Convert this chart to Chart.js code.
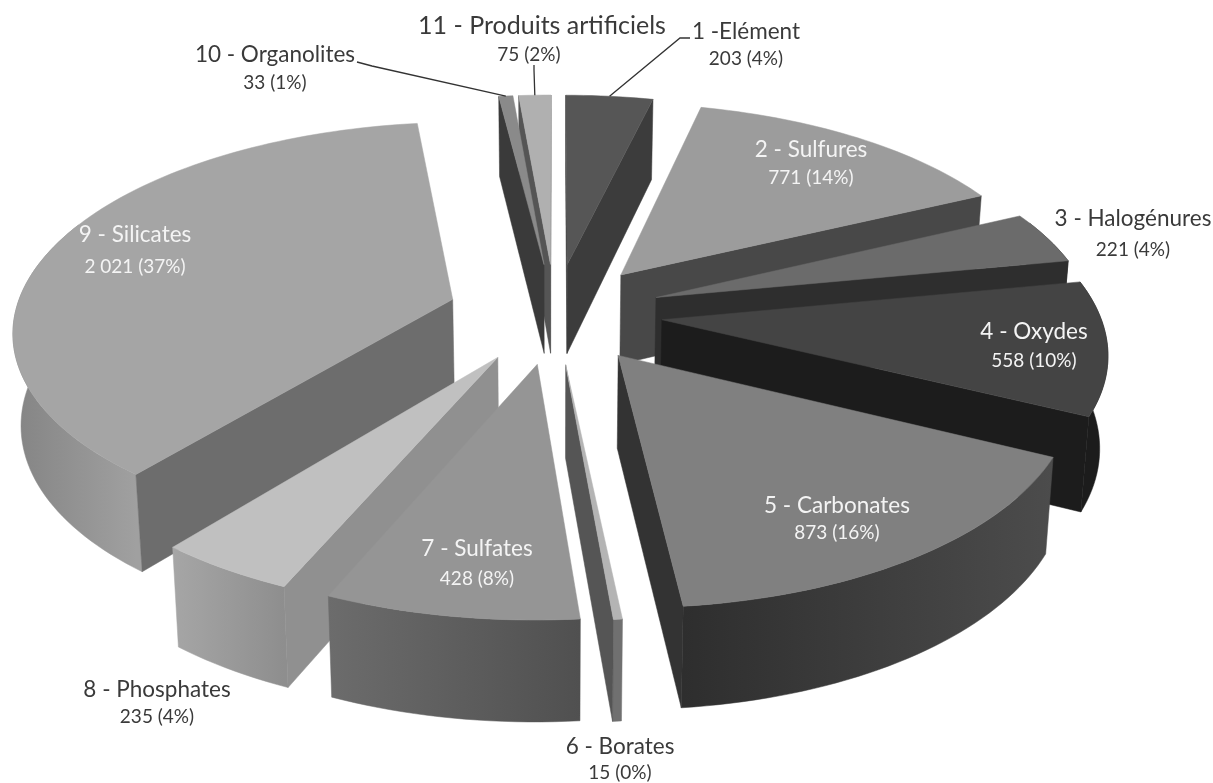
<!DOCTYPE html>
<html>
<head>
<meta charset="utf-8">
<title>Minéraux</title>
<script src="https://cdn.jsdelivr.net/npm/chart.js@4"></script>
<style>
    html, body { margin: 0; padding: 0; background: #fff; }
    #wrap { width: 1213px; height: 783px; }
</style>
</head>
<body>
<div id="wrap"><canvas id="myChart"></canvas></div>
<script>
const categories = ['1 -Elément', '2 - Sulfures', '3 - Halogénures', '4 - Oxydes', '5 - Carbonates', '6 - Borates',
    '7 - Sulfates', '8 - Phosphates', '9 - Silicates', '10 - Organolites', '11 - Produits artificiels'];
const values = [203, 771, 221, 558, 873, 15, 428, 235, 2021, 33, 75];
const valueLabels = ['203 (4%)', '771 (14%)', '221 (4%)', '558 (10%)', '873 (16%)', '15 (0%)',
    '428 (8%)', '235 (4%)', '2 021 (37%)', '33 (1%)', '75 (2%)'];

// styles per slice
const faceColors = ['#565656', '#9c9c9c', '#6b6b6b', '#444444', '#808080', '#b4b4b4', '#959595', '#c0c0c0', '#a5a5a5', '#8a8a8a', '#b0b0b0'];
const wallColors = ['#3c3c3c', '#484848', '#2e2e2e', '#1c1c1c', '#333333', '#555555', '#8f8f8f', '#909090', '#6d6d6d', '#3a3a3a', '#555555'];
const rimLeft = ['#3c3c3c', '#484848', '#2e2e2e', '#1c1c1c', '#2e2e2e', '#707070', '#6c6c6c', '#a6a6a6', '#848484', '#3a3a3a', '#555555'];
const rimRight = ['#3c3c3c', '#484848', '#2e2e2e', '#1c1c1c', '#4c4c4c', '#707070', '#505050', '#8e8e8e', '#a0a0a0', '#3a3a3a', '#555555'];

// label centres: [x, y] of the name, then [x, y] of the value line; white text inside the pie
const labelPos = [[746, 32, 746, 59], [811, 150, 811, 178], [1133, 219, 1133, 250], [1034, 332, 1034, 361],
    [837, 506, 837, 533], [620, 747, 620, 773], [477, 549, 477, 579], [157, 690, 157, 717],
    [135, 235, 135, 267], [275, 55, 275, 83], [542, 26, 529, 55]];
const labelWhite = [false, true, false, true, true, false, true, false, true, false, false];
const nameSize = [22.5, 22.5, 22.5, 22.5, 22.5, 22.5, 22.5, 22.5, 22.5, 22.5, 25];

// leader lines: slice index, start, elbow
const leaders = [
    { slice: 0, from: [690, 38], elbow: [680, 38] },
    { slice: 9, from: [357, 62], elbow: [372, 66] },
    { slice: 10, from: [534, 65], elbow: [534, 70] }
];

// camera, all relative to the pie's own centre and radius
const explode = 0.197;      // share of the radius used by the explosion
const focal = 1.741;
const tilt = 0.4685;
const persp = 0.171;
const wallHeight = 0.2907;
const wallSlope = 0.035;
const wallShrink = 0.985;

function projector(arc) {
    const R = arc.outerRadius;
    return (u, v, down) => {
        const w = 1 - persp * v;
        let x = focal * R * u / w;
        let y = focal * R * tilt * v / w;
        if (down) {
            x *= wallShrink;
            y += R * (wallHeight + wallSlope * v);
        }
        return [arc.x + x, arc.y + y];
    };
}

function sliceGeometry(arc) {
    const mid = (arc.startAngle + arc.endAngle) / 2;
    const ax = explode * Math.cos(mid);
    const ay = explode * Math.sin(mid);
    const r = 1 - explode;
    const at = (ang) => [ax + r * Math.cos(ang), ay + r * Math.sin(ang)];
    return { mid, apex: [ax, ay], at };
}

function poly(ctx, pts, fill) {
    ctx.beginPath();
    pts.forEach((p, i) => i ? ctx.lineTo(p[0], p[1]) : ctx.moveTo(p[0], p[1]));
    ctx.closePath();
    ctx.fillStyle = fill;
    ctx.strokeStyle = fill;
    ctx.lineWidth = 0.5;
    ctx.fill();
    ctx.stroke();
}

function drawWall(ctx, p, geo, ang, sign, color) {
    // outward normal of the cut face, test it against the camera position on the ground
    const nu = -sign * Math.sin(ang);
    const nv = sign * Math.cos(ang);
    const facing = (0 - geo.apex[0]) * nu + (1 / persp - geo.apex[1]) * nv;
    if (facing <= 0) return;
    const e = geo.at(ang);
    poly(ctx, [p(geo.apex[0], geo.apex[1]), p(e[0], e[1]), p(e[0], e[1], true), p(geo.apex[0], geo.apex[1], true)], color);
}

function drawRim(ctx, p, geo, arc, i) {
    // a little past the sides, the walls narrow downward and the face covers the rest
    const a0 = Math.max(arc.startAngle, -0.4);
    const a1 = Math.min(arc.endAngle, Math.PI + 0.4);
    if (a1 <= a0) return;
    const steps = Math.max(2, Math.ceil((a1 - a0) * 40));
    const top = [], bottom = [];
    for (let k = 0; k <= steps; k++) {
        const e = geo.at(a0 + (a1 - a0) * k / steps);
        top.push(p(e[0], e[1]));
        bottom.unshift(p(e[0], e[1], true));
    }
    const xs = top.map(t => t[0]);
    const grad = ctx.createLinearGradient(Math.min(...xs), 0, Math.max(...xs) + 0.01, 0);
    grad.addColorStop(0, rimLeft[i]);
    grad.addColorStop(1, rimRight[i]);
    poly(ctx, top.concat(bottom), grad);
}

function drawFace(ctx, p, geo, arc, color) {
    const steps = Math.max(2, Math.ceil((arc.endAngle - arc.startAngle) * 40));
    const pts = [p(geo.apex[0], geo.apex[1])];
    for (let k = 0; k <= steps; k++) {
        const e = geo.at(arc.startAngle + (arc.endAngle - arc.startAngle) * k / steps);
        pts.push(p(e[0], e[1]));
    }
    poly(ctx, pts, color);
}

const pie3d = {
    id: 'pie3d',
    beforeDatasetDraw(chart, args) {
        const ctx = chart.ctx;
        const arcs = chart.getDatasetMeta(args.index).data;
        const order = arcs.map((a, i) => i).sort((a, b) => {
            const ma = (arcs[a].startAngle + arcs[a].endAngle) / 2;
            const mb = (arcs[b].startAngle + arcs[b].endAngle) / 2;
            return Math.sin(ma) - Math.sin(mb);
        });
        ctx.save();
        order.forEach(i => {
            const arc = arcs[i];
            const geo = sliceGeometry(arc);
            const p = projector(arc);
            drawRim(ctx, p, geo, arc, i);
            drawWall(ctx, p, geo, arc.startAngle, -1, wallColors[i]);
            drawWall(ctx, p, geo, arc.endAngle, 1, wallColors[i]);
            drawFace(ctx, p, geo, arc, faceColors[i]);
        });
        ctx.restore();
        return false; // the slices are done, skip the flat ones
    },
    afterDraw(chart) {
        const ctx = chart.ctx;
        const arcs = chart.getDatasetMeta(0).data;
        ctx.save();
        ctx.strokeStyle = '#333333';
        ctx.lineWidth = 1.3;
        leaders.forEach(l => {
            const arc = arcs[l.slice];
            const geo = sliceGeometry(arc);
            const e = geo.at(geo.mid);
            const end = projector(arc)(e[0], e[1]);
            ctx.beginPath();
            ctx.moveTo(l.from[0], l.from[1]);
            ctx.lineTo(l.elbow[0], l.elbow[1]);
            ctx.lineTo(end[0], end[1]);
            ctx.stroke();
        });
        ctx.textAlign = 'center';
        ctx.textBaseline = 'middle';
        categories.forEach((name, i) => {
            ctx.fillStyle = labelWhite[i] ? '#f4f4f4' : '#3a3a3a';
            ctx.font = nameSize[i] + 'px Lato';
            ctx.fillText(name, labelPos[i][0], labelPos[i][1]);
            ctx.font = '19px Lato';
            ctx.fillText(valueLabels[i], labelPos[i][2], labelPos[i][3]);
        });
        ctx.restore();
    }
};

new Chart(document.querySelector('#myChart').getContext('2d'), {
    type: 'pie',
    data: {
        labels: categories,
        datasets: [{ data: values, backgroundColor: faceColors, borderWidth: 0 }]
    },
    options: {
        responsive: true,
        maintainAspectRatio: false,
        animation: false,
        rotation: 0,
        layout: { padding: { right: 103, bottom: 157 } },
        plugins: { legend: { display: false }, tooltip: { enabled: false } }
    },
    plugins: [pie3d]
});
</script>
</body>
</html>
